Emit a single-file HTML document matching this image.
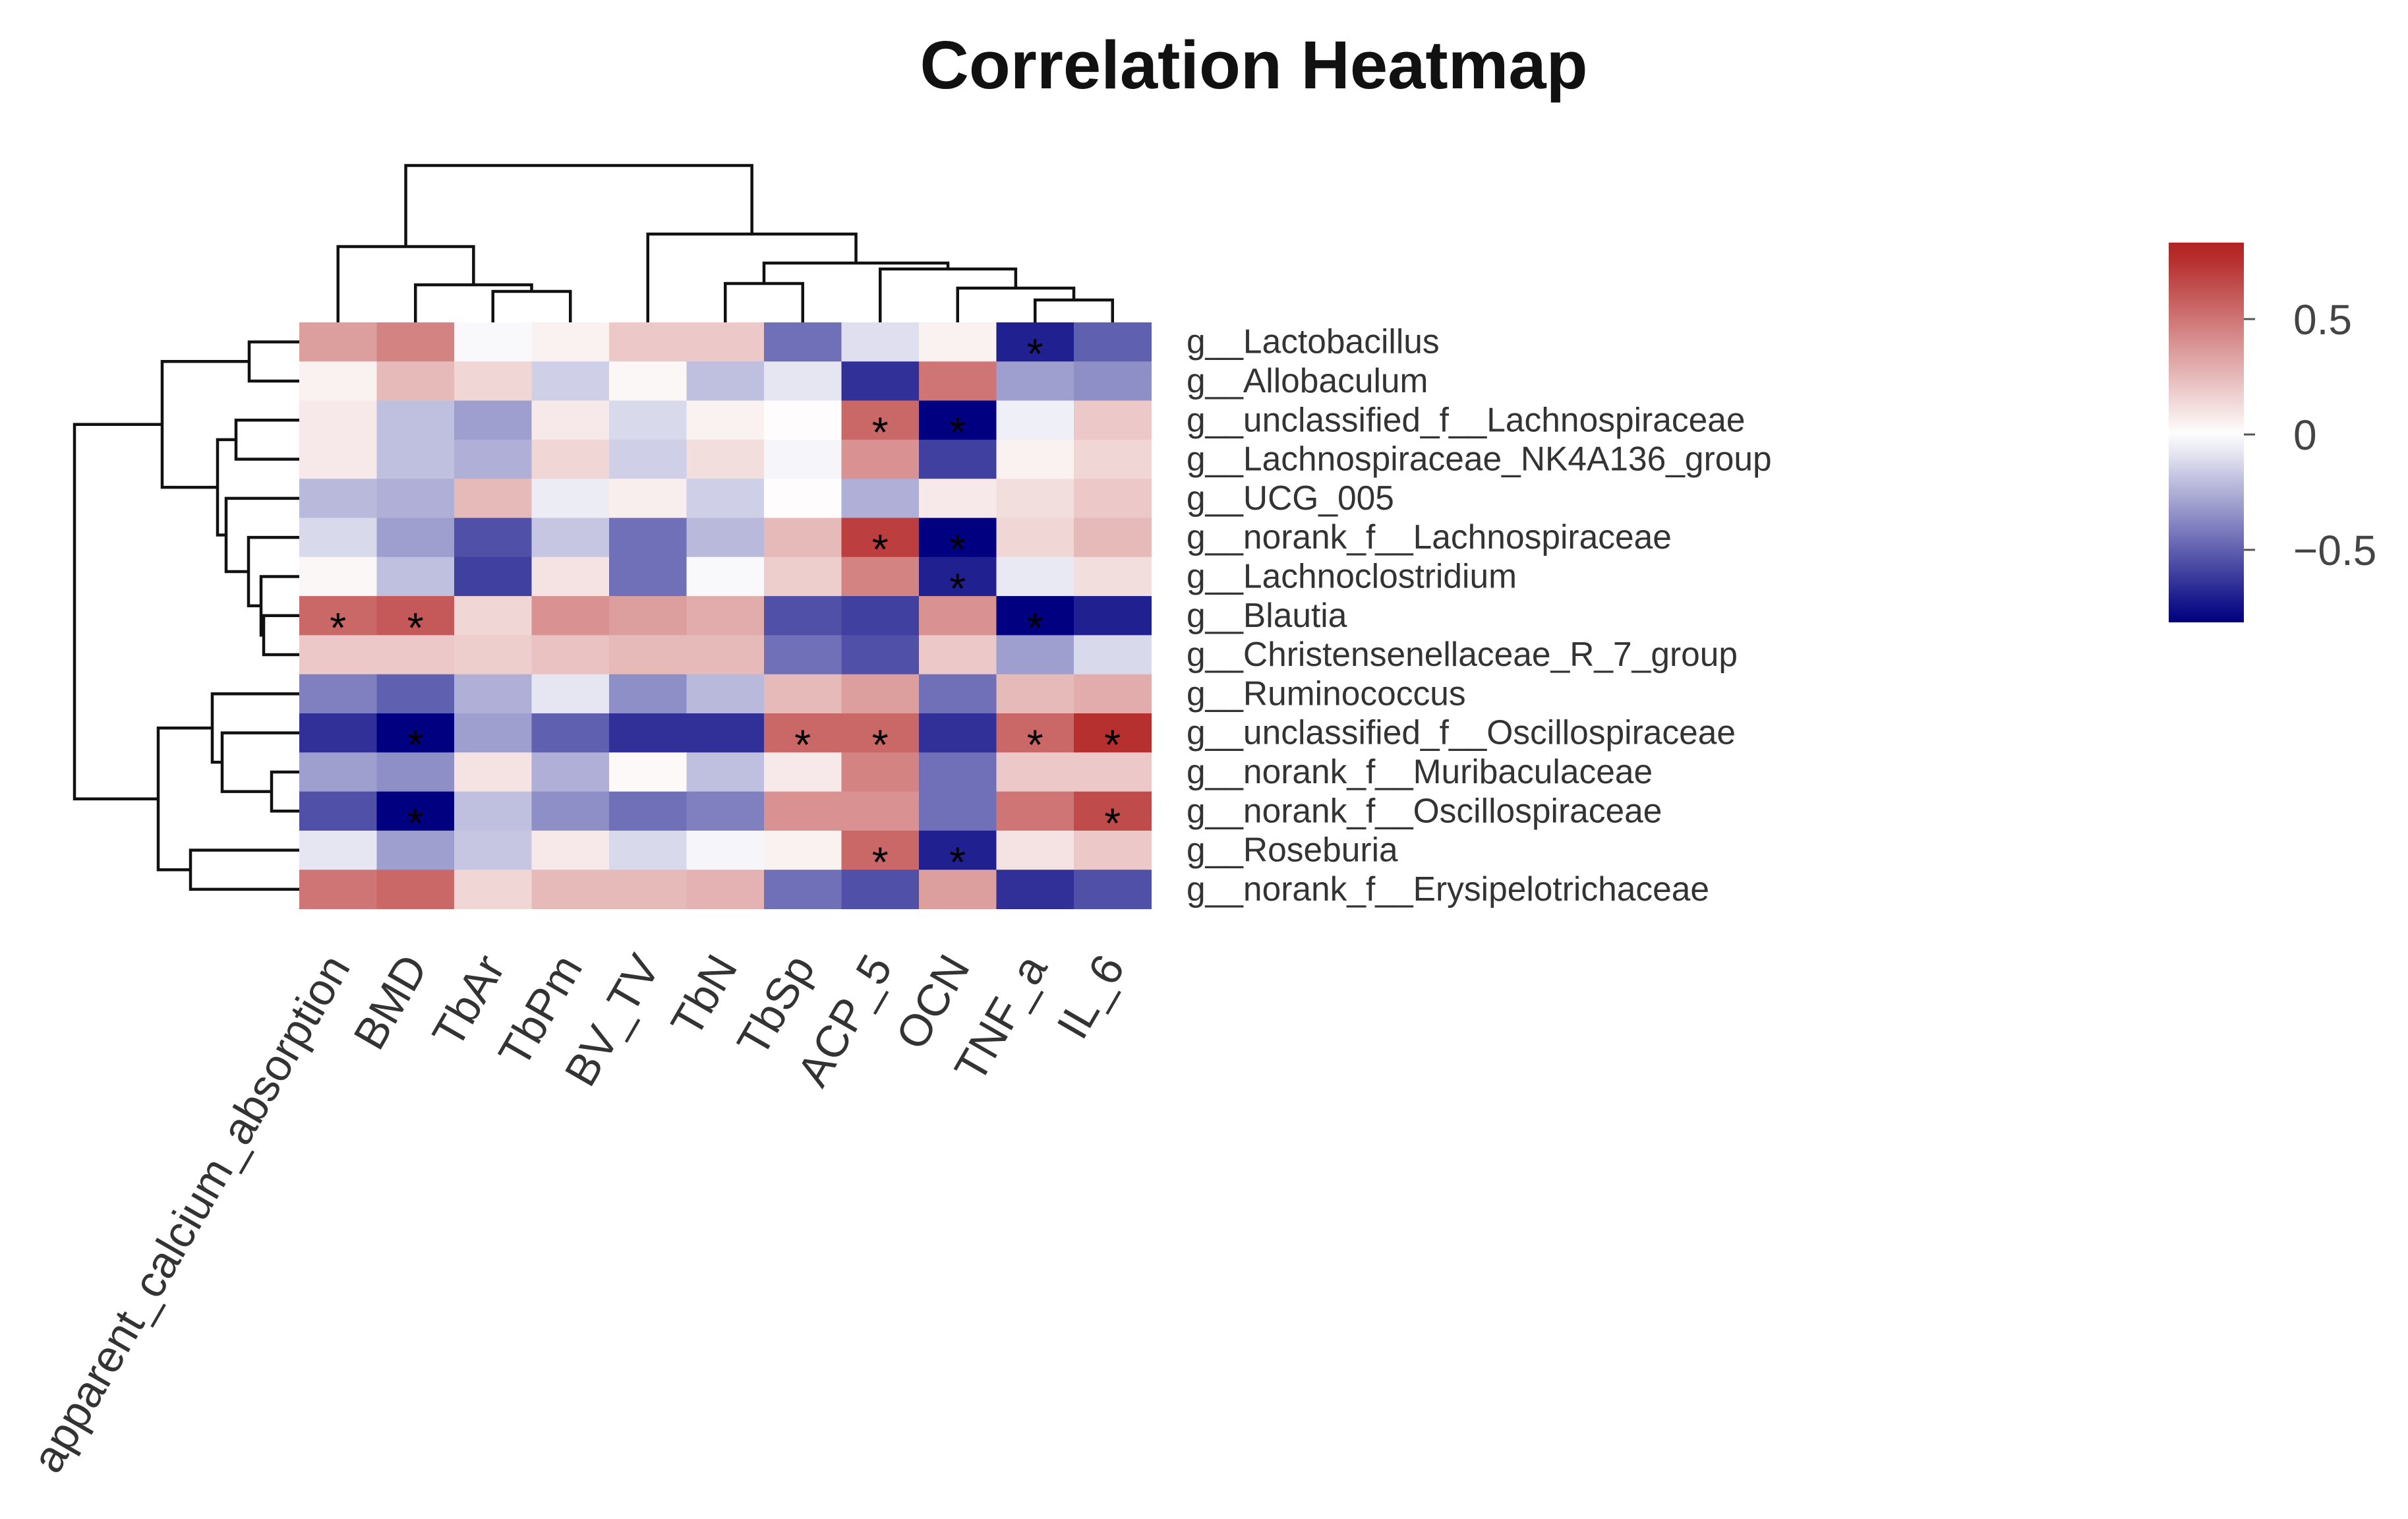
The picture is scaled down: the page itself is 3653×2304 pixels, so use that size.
<!DOCTYPE html>
<html><head><meta charset="utf-8"><style>
html,body{margin:0;padding:0;background:#fff}
svg{display:block}
</style></head><body>
<svg id="chart" width="3653" height="2304" viewBox="0 0 3653 2304" xmlns="http://www.w3.org/2000/svg">
<text x="1902" y="134" text-anchor="middle" font-family="Liberation Sans, sans-serif" font-weight="bold" font-size="103" fill="#111">Correlation Heatmap</text>
<g id="cells"></g>
<g id="stars"></g>
<g id="rowlabels"></g>
<g id="collabels"></g>
<g id="coldend"></g>
<g id="rowdend"></g>
<g id="legend"></g>
</svg>
<script>
const rows = ["g__Lactobacillus","g__Allobaculum","g__unclassified_f__Lachnospiraceae","g__Lachnospiraceae_NK4A136_group","g__UCG_005","g__norank_f__Lachnospiraceae","g__Lachnoclostridium","g__Blautia","g__Christensenellaceae_R_7_group","g__Ruminococcus","g__unclassified_f__Oscillospiraceae","g__norank_f__Muribaculaceae","g__norank_f__Oscillospiraceae","g__Roseburia","g__norank_f__Erysipelotrichaceae"];
const cols = ["apparent_calcium_absorption","BMD","TbAr","TbPm","BV_TV","TbN","TbSp","ACP_5","OCN","TNF_a","IL_6"];
const values = [
[0.35,0.45,-0.02,0.05,0.2,0.2,-0.45,-0.1,0.05,-0.7,-0.5],
[0.05,0.25,0.15,-0.15,0.03,-0.2,-0.08,-0.65,0.5,-0.3,-0.35],
[0.08,-0.2,-0.3,0.08,-0.12,0.05,0.01,0.55,-0.8,-0.05,0.2],
[0.08,-0.2,-0.25,0.15,-0.15,0.12,-0.03,0.4,-0.6,0.05,0.15],
[-0.22,-0.25,0.25,-0.06,0.06,-0.15,0.01,-0.25,0.08,0.12,0.2],
[-0.12,-0.3,-0.55,-0.18,-0.45,-0.22,0.25,0.7,-0.8,0.15,0.25],
[0.03,-0.2,-0.6,0.1,-0.45,-0.02,0.18,0.45,-0.7,-0.07,0.12],
[0.55,0.6,0.15,0.4,0.35,0.3,-0.55,-0.6,0.4,-0.8,-0.7],
[0.2,0.2,0.18,0.22,0.25,0.25,-0.45,-0.55,0.2,-0.3,-0.12],
[-0.4,-0.5,-0.25,-0.08,-0.35,-0.22,0.25,0.35,-0.45,0.25,0.3],
[-0.65,-0.8,-0.3,-0.5,-0.65,-0.65,0.55,0.55,-0.65,0.55,0.75],
[-0.3,-0.35,0.1,-0.25,0.02,-0.2,0.08,0.45,-0.45,0.2,0.2],
[-0.55,-0.8,-0.2,-0.35,-0.45,-0.4,0.4,0.4,-0.45,0.5,0.65],
[-0.08,-0.3,-0.18,0.08,-0.12,-0.03,0.05,0.55,-0.7,0.1,0.2],
[0.5,0.55,0.15,0.25,0.25,0.28,-0.45,-0.55,0.35,-0.65,-0.55]
];
const stars = [[0,9],[2,7],[2,8],[5,7],[5,8],[6,8],[7,0],[7,1],[7,9],[10,1],[10,6],[10,7],[10,9],[10,10],[12,1],[12,10],[13,7],[13,8]];
const colMerges = [[2,3,47],[1,-1,57],[0,-2,115],[5,6,59],[9,10,34],[8,-5,52],[7,-6,81],[-4,-7,90],[4,-8,134],[-3,-9,238]];
const rowMerges = [[0,1,76],[2,3,96],[7,8,54],[6,-3,58],[5,-4,77],[4,-5,111],[-2,-6,124],[-1,-7,208],[11,12,42],[10,-9,117],[9,-10,132],[13,14,165],[-11,-12,214],[-8,-13,341]];
const legendTicks = [0.5,0,-0.5];
const legendTickLabels = ["0.5","0","\u22120.5"];

const NS="http://www.w3.org/2000/svg";
const X0=454,Y0=489,CW=117.5,RH=59.3,VMAX=0.8;
const xC=i=>X0+CW*(i+0.5), yC=j=>Y0+RH*(j+0.5);
function color(v){
  let t=Math.max(-1,Math.min(1,v/VMAX));
  let c;
  if(t>=0){c=[255+(178-255)*t,255+(34-255)*t,255+(34-255)*t];}
  else{t=-t;c=[255-255*t,255-255*t,255-127*t];}
  return `rgb(${c.map(Math.round).join(',')})`;
}
function mk(tag,attrs,parent){const e=document.createElementNS(NS,tag);for(const k in attrs)e.setAttribute(k,attrs[k]);parent.appendChild(e);return e;}
const gc=document.getElementById('cells');
values.forEach((row,j)=>row.forEach((v,i)=>{
  const r=mk('rect',{x:X0+CW*i,y:Y0+RH*j,width:CW+0.5,height:RH+0.5,fill:color(v)},gc);
  
  
}));
const gs=document.getElementById('stars');
stars.forEach(([j,i])=>{
  const t=mk('text',{x:xC(i),y:yC(j)+40,'text-anchor':'middle','font-family':'Liberation Sans, sans-serif','font-size':'64',fill:'#000'},gs);
  t.textContent='*';
  
  
});
const gr=document.getElementById('rowlabels');
rows.forEach((n,j)=>{
  const t=mk('text',{x:1800,y:yC(j)+17,'font-family':'Liberation Sans, sans-serif','font-size':'51.5',fill:'#333'},gr);
  t.textContent=n;
  
  
});
const gl=document.getElementById('collabels');
cols.forEach((n,i)=>{
  const x=xC(i)+20,y=1466;
  const t=mk('text',{x:x,y:y,'text-anchor':'end','font-family':'Liberation Sans, sans-serif','font-size':'68',fill:'#333',transform:`rotate(-60 ${x} ${y})`},gl);
  t.textContent=n;
  
  
});
function dend(merges,n,leafPos,base,dir,g){
  const pos=[],h=[];
  function get(c){return c>=0?[leafPos(c),0]:[pos[-c-1],h[-c-1]];}
  merges.forEach((m,k)=>{
    const [pa,ha]=get(m[0]),[pb,hb]=get(m[1]),H=m[2];
    pos[k]=(pa+pb)/2;h[k]=H;
    let d;
    if(dir==='top') d=`M${pa},${base-ha}V${base-H}H${pb}V${base-hb}`;
    else d=`M${base-ha},${pa}H${base-H}V${pb}H${base-hb}`;
    const p=mk('path',{d:d,fill:'none',stroke:'#111','stroke-width':'4.5'},g);
    
    
  });
}
dend(colMerges,11,xC,Y0,'top',document.getElementById('coldend'));
dend(rowMerges,15,yC,X0,'left',document.getElementById('rowdend'));
const lg=document.getElementById('legend');
const defs=mk('defs',{},lg);
const grad=mk('linearGradient',{id:'cb',x1:0,y1:0,x2:0,y2:1},defs);
const LY0=368,LY1=944,LX=3290,LW=114,LZ=659,LS=350;
const ly=v=>LZ-v*LS;
const vTop=(LZ-LY0)/LS, vBot=(LZ-LY1)/LS;
for(let k=0;k<=20;k++){const v=vTop+(vBot-vTop)*k/20;mk('stop',{offset:k/20,'stop-color':color(v)},grad);}
const bar=mk('rect',{x:LX,y:LY0,width:LW,height:LY1-LY0,fill:'url(#cb)'},lg);


legendTicks.forEach((v,k)=>{
  const l=mk('line',{x1:LX+LW,x2:LX+LW+17,y1:ly(v),y2:ly(v),stroke:'#555','stroke-width':'3'},lg);
  
  
  const t=mk('text',{x:3479,y:ly(v)+23,'font-family':'Liberation Sans, sans-serif','font-size':'64',fill:'#444'},lg);
  t.textContent=legendTickLabels[k];
  
  
});
</script>
</body></html>
